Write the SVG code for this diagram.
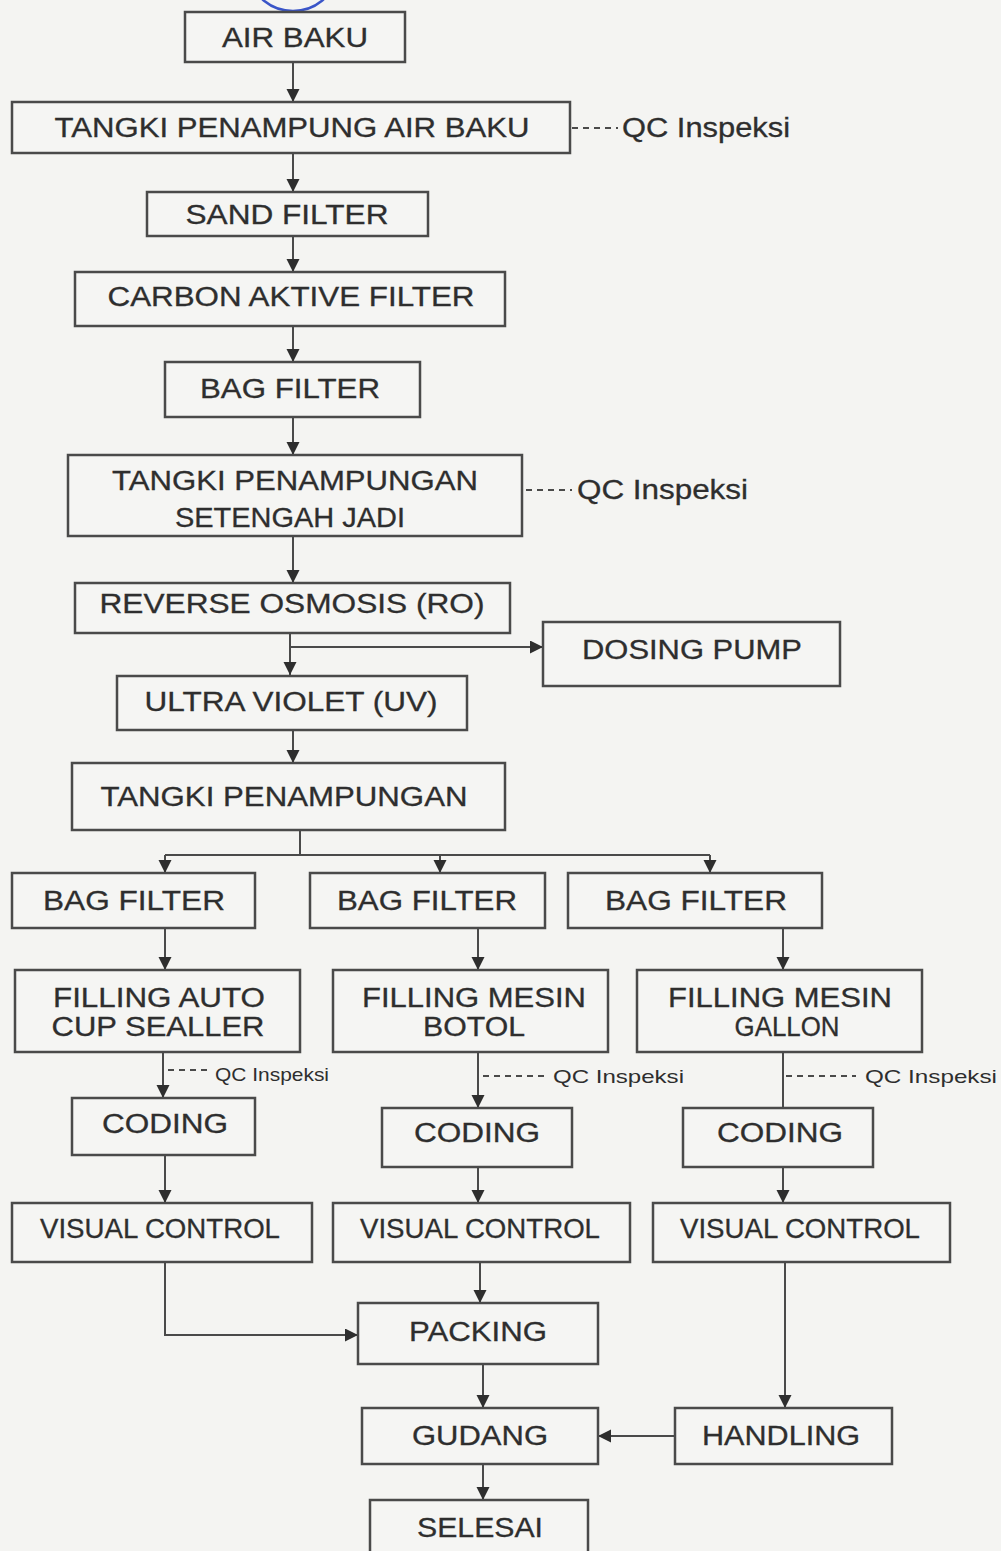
<svg xmlns="http://www.w3.org/2000/svg" width="1001" height="1551" viewBox="0 0 1001 1551">
<style>
.bx{fill:#f5f5f3;stroke:#4a4a4a;stroke-width:2.5}
.t{font-family:"Liberation Sans",Arial,sans-serif;font-size:27px;fill:#2e2e2e;stroke:#2e2e2e;stroke-width:0.3;text-anchor:middle;dominant-baseline:central}
.q{font-family:"Liberation Sans",Arial,sans-serif;font-size:27px;fill:#2e2e2e;stroke:#2e2e2e;stroke-width:0.3;dominant-baseline:central}
.qs{font-family:"Liberation Sans",Arial,sans-serif;font-size:19px;fill:#2e2e2e;dominant-baseline:central}
.c{fill:none;stroke:#4a4a4a;stroke-width:2}
.a{marker-end:url(#ah)}
.d{fill:none;stroke:#4a4a4a;stroke-width:2;stroke-dasharray:6,5}
</style>
<defs>
<marker id="ah" markerUnits="userSpaceOnUse" markerWidth="14" markerHeight="14" refX="13" refY="6.5" orient="auto">
<path d="M0,0 L13,6.5 L0,13 z" fill="#2e2e2e"/>
</marker>
</defs>
<rect x="0" y="0" width="1001" height="1551" fill="#f4f4f2"/>
<ellipse cx="293" cy="-22" rx="40" ry="33" fill="none" stroke="#3a55c8" stroke-width="2.5"/>

<g id="connectors">
<line class="c a" x1="293" y1="62" x2="293" y2="102"/>
<line class="d" x1="572" y1="128" x2="618" y2="128"/>
<line class="c a" x1="293" y1="153" x2="293" y2="192"/>
<line class="c a" x1="293" y1="236" x2="293" y2="272"/>
<line class="c a" x1="293" y1="326" x2="293" y2="362"/>
<line class="c a" x1="293" y1="417" x2="293" y2="455"/>
<line class="d" x1="526" y1="490" x2="572" y2="490"/>
<line class="c a" x1="293" y1="536" x2="293" y2="583"/>
<line class="c a" x1="290" y1="633" x2="290" y2="675"/>
<line class="c a" x1="290" y1="647" x2="543" y2="647"/>
<line class="c a" x1="293" y1="730" x2="293" y2="763"/>
<line class="c" x1="300" y1="830" x2="300" y2="855"/>
<line class="c" x1="165" y1="855" x2="710" y2="855"/>
<line class="c a" x1="165" y1="855" x2="165" y2="873"/>
<line class="c a" x1="440" y1="855" x2="440" y2="873"/>
<line class="c a" x1="710" y1="855" x2="710" y2="873"/>
<line class="c a" x1="165" y1="928" x2="165" y2="970"/>
<line class="c a" x1="478" y1="928" x2="478" y2="970"/>
<line class="c a" x1="783" y1="928" x2="783" y2="970"/>
<line class="c a" x1="163" y1="1052" x2="163" y2="1098"/>
<line class="d" x1="168" y1="1070" x2="212" y2="1070"/>
<line class="c a" x1="478" y1="1052" x2="478" y2="1108"/>
<line class="d" x1="483" y1="1076" x2="549" y2="1076"/>
<line class="c" x1="783" y1="1052" x2="783" y2="1108"/>
<line class="d" x1="786" y1="1076" x2="856" y2="1076"/>
<line class="c a" x1="165" y1="1155" x2="165" y2="1203"/>
<line class="c a" x1="478" y1="1167" x2="478" y2="1203"/>
<line class="c a" x1="783" y1="1167" x2="783" y2="1203"/>
<path class="c a" d="M165,1262 V1335 H358"/>
<line class="c a" x1="480" y1="1262" x2="480" y2="1303"/>
<line class="c a" x1="785" y1="1262" x2="785" y2="1408"/>
<line class="c a" x1="675" y1="1436" x2="598" y2="1436"/>
<line class="c a" x1="483" y1="1364" x2="483" y2="1408"/>
<line class="c a" x1="483" y1="1464" x2="483" y2="1500"/>
</g>

<g id="qc-labels">
<text class="q" x="622" y="128" textLength="168" lengthAdjust="spacingAndGlyphs">QC Inspeksi</text>
<text class="q" x="577" y="490" textLength="171" lengthAdjust="spacingAndGlyphs">QC Inspeksi</text>
<text class="qs" x="215" y="1074" textLength="114" lengthAdjust="spacingAndGlyphs">QC Inspeksi</text>
<text class="qs" x="553" y="1076" textLength="131" lengthAdjust="spacingAndGlyphs">QC Inspeksi</text>
<text class="qs" x="865" y="1076" textLength="132" lengthAdjust="spacingAndGlyphs">QC Inspeksi</text>
</g>

<g id="air-baku"><rect class="bx" x="185" y="12" width="220" height="50"/><text class="t" x="295" y="38" textLength="146" lengthAdjust="spacingAndGlyphs">AIR BAKU</text></g>
<g id="tangki-air-baku"><rect class="bx" x="12" y="102" width="558" height="51"/><text class="t" x="292" y="128" textLength="475" lengthAdjust="spacingAndGlyphs">TANGKI PENAMPUNG AIR BAKU</text></g>
<g id="sand-filter"><rect class="bx" x="147" y="192" width="281" height="44"/><text class="t" x="287" y="215" textLength="203" lengthAdjust="spacingAndGlyphs">SAND FILTER</text></g>
<g id="carbon-filter"><rect class="bx" x="75" y="272" width="430" height="54"/><text class="t" x="291" y="297" textLength="367" lengthAdjust="spacingAndGlyphs">CARBON AKTIVE FILTER</text></g>
<g id="bag-filter-top"><rect class="bx" x="165" y="362" width="255" height="55"/><text class="t" x="290" y="389" textLength="180" lengthAdjust="spacingAndGlyphs">BAG FILTER</text></g>
<g id="tangki-setengah"><rect class="bx" x="68" y="455" width="454" height="81"/><text class="t" x="295" y="481" textLength="366" lengthAdjust="spacingAndGlyphs">TANGKI PENAMPUNGAN</text><text class="t" x="290" y="518" textLength="230" lengthAdjust="spacingAndGlyphs">SETENGAH JADI</text></g>
<g id="ro"><rect class="bx" x="75" y="583" width="435" height="50"/><text class="t" x="292" y="604" textLength="385" lengthAdjust="spacingAndGlyphs">REVERSE OSMOSIS (RO)</text></g>
<g id="dosing-pump"><rect class="bx" x="543" y="622" width="297" height="64"/><text class="t" x="692" y="650" textLength="220" lengthAdjust="spacingAndGlyphs">DOSING PUMP</text></g>
<g id="uv"><rect class="bx" x="117" y="676" width="350" height="54"/><text class="t" x="291" y="702" textLength="293" lengthAdjust="spacingAndGlyphs">ULTRA VIOLET (UV)</text></g>
<g id="tangki-penampungan"><rect class="bx" x="72" y="763" width="433" height="67"/><text class="t" x="284" y="797" textLength="367" lengthAdjust="spacingAndGlyphs">TANGKI PENAMPUNGAN</text></g>

<g id="bag-filter-1"><rect class="bx" x="12" y="873" width="243" height="55"/><text class="t" x="134" y="901" textLength="182" lengthAdjust="spacingAndGlyphs">BAG FILTER</text></g>
<g id="bag-filter-2"><rect class="bx" x="310" y="873" width="235" height="55"/><text class="t" x="427" y="901" textLength="180" lengthAdjust="spacingAndGlyphs">BAG FILTER</text></g>
<g id="bag-filter-3"><rect class="bx" x="568" y="873" width="254" height="55"/><text class="t" x="696" y="901" textLength="182" lengthAdjust="spacingAndGlyphs">BAG FILTER</text></g>

<g id="filling-cup"><rect class="bx" x="15" y="970" width="285" height="82"/><text class="t" x="159" y="998" textLength="212" lengthAdjust="spacingAndGlyphs">FILLING AUTO</text><text class="t" x="158" y="1027" textLength="213" lengthAdjust="spacingAndGlyphs">CUP SEALLER</text></g>
<g id="filling-botol"><rect class="bx" x="333" y="970" width="275" height="82"/><text class="t" x="474" y="998" textLength="224" lengthAdjust="spacingAndGlyphs">FILLING MESIN</text><text class="t" x="474" y="1027" textLength="102" lengthAdjust="spacingAndGlyphs">BOTOL</text></g>
<g id="filling-gallon"><rect class="bx" x="637" y="970" width="285" height="82"/><text class="t" x="780" y="998" textLength="224" lengthAdjust="spacingAndGlyphs">FILLING MESIN</text><text class="t" x="787" y="1027" textLength="105" lengthAdjust="spacingAndGlyphs">GALLON</text></g>

<g id="coding-1"><rect class="bx" x="72" y="1098" width="183" height="57"/><text class="t" x="165" y="1124" textLength="126" lengthAdjust="spacingAndGlyphs">CODING</text></g>
<g id="coding-2"><rect class="bx" x="382" y="1108" width="190" height="59"/><text class="t" x="477" y="1133" textLength="126" lengthAdjust="spacingAndGlyphs">CODING</text></g>
<g id="coding-3"><rect class="bx" x="683" y="1108" width="190" height="59"/><text class="t" x="780" y="1133" textLength="126" lengthAdjust="spacingAndGlyphs">CODING</text></g>

<g id="visual-1"><rect class="bx" x="12" y="1203" width="300" height="59"/><text class="t" x="160" y="1229" textLength="240" lengthAdjust="spacingAndGlyphs">VISUAL CONTROL</text></g>
<g id="visual-2"><rect class="bx" x="333" y="1203" width="297" height="59"/><text class="t" x="480" y="1229" textLength="240" lengthAdjust="spacingAndGlyphs">VISUAL CONTROL</text></g>
<g id="visual-3"><rect class="bx" x="653" y="1203" width="297" height="59"/><text class="t" x="800" y="1229" textLength="240" lengthAdjust="spacingAndGlyphs">VISUAL CONTROL</text></g>

<g id="packing"><rect class="bx" x="358" y="1303" width="240" height="61"/><text class="t" x="478" y="1332" textLength="138" lengthAdjust="spacingAndGlyphs">PACKING</text></g>
<g id="gudang"><rect class="bx" x="362" y="1408" width="236" height="56"/><text class="t" x="480" y="1436" textLength="136" lengthAdjust="spacingAndGlyphs">GUDANG</text></g>
<g id="handling"><rect class="bx" x="675" y="1408" width="217" height="56"/><text class="t" x="781" y="1436" textLength="158" lengthAdjust="spacingAndGlyphs">HANDLING</text></g>
<g id="selesai"><rect class="bx" x="370" y="1500" width="218" height="60"/><text class="t" x="480" y="1528" textLength="126" lengthAdjust="spacingAndGlyphs">SELESAI</text></g>
</svg>
